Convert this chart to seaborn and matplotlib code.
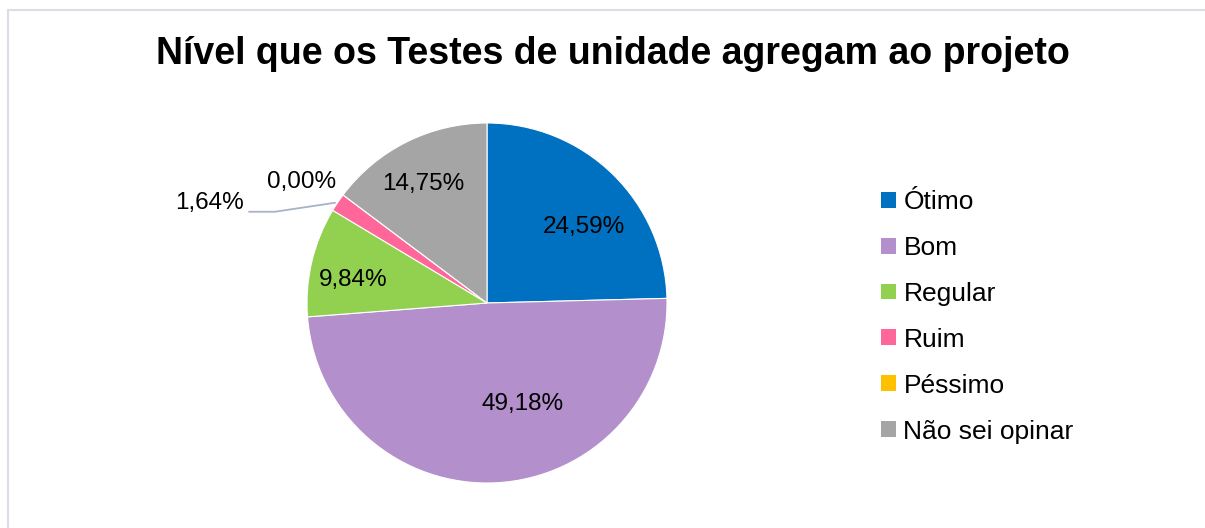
import matplotlib
matplotlib.use("Agg")
import matplotlib.pyplot as plt
import seaborn as sns
from matplotlib.patches import Patch
from matplotlib.lines import Line2D

categories = ["Ótimo", "Bom", "Regular", "Ruim", "Péssimo", "Não sei opinar"]
values = [24.59, 49.18, 9.84, 1.64, 0.00, 14.75]
labels_txt = ["24,59%", "49,18%", "9,84%", "1,64%", "0,00%", "14,75%"]
colors = ["#0070C0", "#B38FCB", "#92D050", "#FF6699", "#FFC000", "#A5A5A5"]
title = "Nível que os Testes de unidade agregam ao projeto"

sns.set_theme(style="white")
plt.rcParams["font.family"] = ["Liberation Sans", "DejaVu Sans"]
plt.rcParams["text.color"] = "black"

W, H = 1205, 528
fig = plt.figure(figsize=(W / 100, H / 100), dpi=100)
fig.patch.set_facecolor("white")

# border (top and left visible)
fig.add_artist(Line2D([8 / W, 8 / W], [0, 1 - 9.5 / H], color="#D9DEE6", lw=1.5))
fig.add_artist(Line2D([8 / W, 1], [1 - 9.5 / H, 1 - 9.5 / H], color="#D9DEE6", lw=1.5))

cx, cy, r = 487, 303, 180
ax = fig.add_axes([(cx - r) / W, (H - cy - r) / H, 2 * r / W, 2 * r / H])
wedges, _ = ax.pie(values, colors=colors, startangle=90, counterclock=False,
                   radius=1.0, wedgeprops=dict(edgecolor="white", linewidth=0.8))
ax.set_xlim(-1, 1)
ax.set_ylim(-1, 1)
ax.set_aspect("equal")
ax.axis("off")

# label positions in pie units (radius=1)
label_pos = [(0.54, 0.42), (0.195, -0.56), (-0.745, 0.13), (-1.54, 0.556), (-1.03, 0.674), (-0.355, 0.66)]
for (x, y), t in zip(label_pos, labels_txt):
    ax.text(x, y, t, ha="center", va="center", fontsize=17.5, color="black", clip_on=False)

# leader line for small slice
ax.add_line(Line2D([-1.322, -1.178, -0.844], [0.507, 0.507, 0.557], color="#A6B3C8", lw=1.3, clip_on=False))

fig.suptitle(title, x=613 / W, y=1 - 54 / H, va="center", fontsize=27, fontweight="bold", color="black")

handles = [Patch(facecolor=c, edgecolor="none") for c in colors]
leg = fig.legend(handles, categories, loc="upper left", bbox_to_anchor=(881 / W, 1 - 190 / H),
                 frameon=False, fontsize=19, handlelength=0.55, handleheight=0.55,
                 handletextpad=0.3, labelspacing=0.83, borderpad=0, borderaxespad=0)
for t in leg.get_texts():
    t.set_color("black")

fig.savefig("out.png", dpi=100, facecolor="white")
